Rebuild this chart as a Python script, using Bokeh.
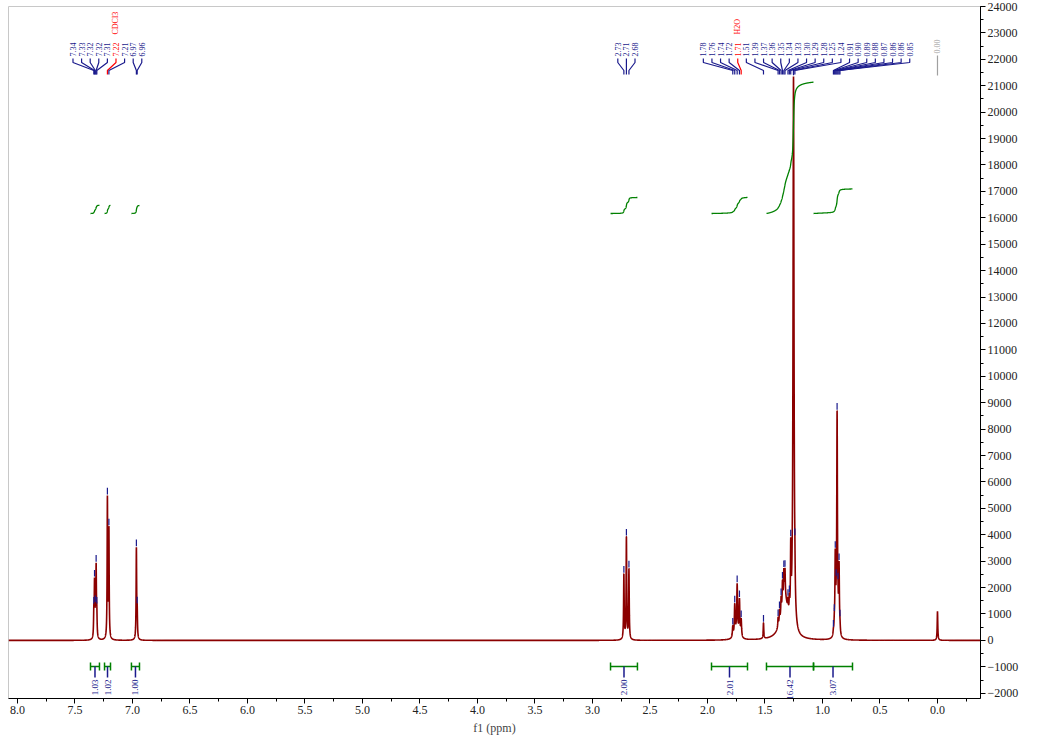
import numpy as np
from math import pi
from bokeh.plotting import figure
from bokeh.models import Range1d, SingleIntervalTicker, NumeralTickFormatter, BasicTickFormatter
from bokeh.core.properties import value
from bokeh.embed import file_html
from bokeh.resources import INLINE

# ---------------- data ----------------
# sharp lines: chemical shift on the f1 axis (ppm), amplitude, half width (ppm)
peak_ppm = [7.336, 7.330, 7.323, 7.316, 7.310,
            7.218, 7.205, 6.966, 6.959,
            2.727, 2.705, 2.683,
            1.780, 1.763, 1.742, 1.722, 1.707,
            1.513,
            1.386, 1.374, 1.360, 1.348, 1.336, 1.326, 1.300, 1.288, 1.276,
            1.252, 1.240,
            0.905, 0.897, 0.889, 0.881, 0.873, 0.865, 0.856, 0.848]
peak_height = [900, 2000, 700, 2600, 800,
               5300, 4100, 3400, 900,
               2450, 3850, 2650,
               400, 1150, 1800, 1350, 650,
               600,
               350, 450, 600, 850, 950, 950, 400, 550, 2500,
               21000, 600,
               150, 350, 2900, 500, 8300, 500, 2500, 250]
peak_width = [0.0028] * 9 + [0.003] * 3 + [0.004] * 5 + [0.003] + \
             [0.003] * 9 + [0.005] + [0.003] + [0.0035] * 8
# broad underlying humps
hump_ppm = [1.330, 1.745]
hump_height = [1600, 250]
hump_width = [0.035, 0.02]
# reference compound
tms_ppm = 0.0
tms_height = 1100
tms_label = "0.00"
# solvent / impurity signals (drawn in red)
solvent_ppm = [7.218, 1.707]
solvent_name = ["CDCl3", "H2O"]

# integrals: from, to (ppm), value
integ_from = [7.365, 7.243, 7.009, 2.843, 1.965, 1.487, 1.078]
integ_to = [7.287, 7.191, 6.939, 2.609, 1.652, 1.078, 0.739]
integ_val = [1.03, 1.02, 1.00, 2.00, 2.01, 16.42, 3.07]

# axes
X_START, X_END = 8.078, -0.374
Y_START, Y_END = -2200, 24000
FRAME_W, FRAME_H = 972, 692

# ---------------- derived ----------------
px_per_ppm = FRAME_W / (X_START - X_END)
px_per_unit = FRAME_H / (Y_END - Y_START)
TOP = 6
y0_page = TOP + FRAME_H * Y_END / (Y_END - Y_START)   # page y of data y=0


def ypage(pix):
    """data y for a vertical page pixel position"""
    return (y0_page - pix) / px_per_unit


def lor(x, c, h, w):
    return h * w * w / ((x - c) ** 2 + w * w)


x = np.arange(X_END, X_START, 0.0004)
spec = np.zeros_like(x)
for c, h, w in zip(peak_ppm, peak_height, peak_width):
    spec += lor(x, c, h, w)
for c, h, w in zip(hump_ppm, hump_height, hump_width):
    spec += lor(x, c, h, w)
spec += lor(x, tms_ppm, tms_height, 0.003)

p = figure(frame_width=FRAME_W, frame_height=FRAME_H,
           x_range=Range1d(X_START, X_END), y_range=Range1d(Y_START, Y_END),
           y_axis_location="right", output_backend="svg", toolbar_location=None,
           min_border_left=8, min_border_top=TOP, min_border_right=2, min_border_bottom=0,
           background_fill_color="white")
p.grid.visible = False
p.outline_line_color = "#C8C8C8"

FONT = "Liberation Serif"
p.xaxis.ticker = SingleIntervalTicker(interval=0.5, num_minor_ticks=2)
p.xaxis.formatter = NumeralTickFormatter(format="0.0")
p.xaxis.axis_label = "f1 (ppm)"
p.yaxis.ticker = SingleIntervalTicker(interval=1000, num_minor_ticks=2)
p.yaxis.formatter = BasicTickFormatter(use_scientific=False)
for ax in (p.xaxis, p.yaxis):
    ax.axis_line_color = "black"
    ax.major_tick_line_color = "black"
    ax.minor_tick_line_color = "black"
    ax.major_tick_in = 0
    ax.major_tick_out = 5
    ax.minor_tick_in = 0
    ax.minor_tick_out = 3
    ax.major_label_text_font = FONT
    ax.major_label_text_font_size = "12px"
    ax.major_label_text_color = "#222222"
    ax.major_label_standoff = 2
p.xaxis.axis_label_text_font = FONT
p.xaxis.axis_label_text_font_size = "12px"
p.xaxis.axis_label_text_font_style = "normal"
p.xaxis.axis_label_standoff = 4

# spectrum
p.line(x, spec, line_color="#8B0000", line_width=1.6)

NAVY = "#1A1A8C"
GREEN = "#008000"

# peak markers
ppk = np.array(peak_ppm)
top = np.interp(ppk, x, spec)
p.segment(x0=ppk, y0=top + 40, x1=ppk, y1=top + 290, line_color=NAVY, line_width=1.2)

# label spreading
gap = 8.6 / px_per_ppm


def spread(targets):
    t = -np.asarray(targets, dtype=float)
    clusters = [[i] for i in range(len(t))]

    def start(cl):
        return np.mean(t[cl]) - (len(cl) - 1) * gap / 2

    changed = True
    while changed:
        changed = False
        for k in range(len(clusters) - 1):
            a, b = clusters[k], clusters[k + 1]
            if start(a) + len(a) * gap > start(b):
                clusters[k] = a + b
                del clusters[k + 1]
                changed = True
                break
    out = np.empty(len(t))
    for cl in clusters:
        s = start(cl)
        for j, i in enumerate(cl):
            out[i] = s + j * gap
    return -out


lab_x = spread(peak_ppm)
# the aliphatic label block sits a little to the right of its centred position
lab_x = np.where(ppk < 2.0, lab_x - 15 / px_per_ppm, lab_x)
is_solv = [any(abs(pp - s) < 1e-6 for s in solvent_ppm) for pp in peak_ppm]
lab_col = ["#FF0000" if s else NAVY for s in is_solv]
lab_txt = [f"{pp:.2f}" for pp in peak_ppm]

yA, yB, yC, yD = ypage(58), ypage(62), ypage(70), ypage(74)
xs = [[lx, lx, px, px] for lx, px in zip(lab_x, peak_ppm)]
ys = [[yA, yB, yC, yD]] * len(peak_ppm)
p.multi_line(xs=xs, ys=ys, line_color=lab_col, line_width=1.2)
p.text(x=lab_x, y=[ypage(56)] * len(lab_x), text=lab_txt, angle=pi / 2,
       text_align="left", text_baseline="middle", text_color=lab_col,
       text_font=value(FONT), text_font_size="8px")

# solvent names above their labels
sx = [lab_x[i] for i, s in enumerate(is_solv) if s]
p.text(x=sx, y=[ypage(34)] * len(sx), text=solvent_name, angle=pi / 2,
       text_align="left", text_baseline="middle", text_color="#FF0000",
       text_font=value(FONT), text_font_size="8px")

# TMS label (grey)
p.segment(x0=[tms_ppm], y0=[ypage(55)], x1=[tms_ppm], y1=[ypage(75)],
          line_color="#A0A0A0", line_width=1.2)
p.text(x=[tms_ppm], y=[ypage(53)], text=[tms_label], angle=pi / 2,
       text_align="left", text_baseline="middle", text_color="#A0A0A0",
       text_font=value(FONT), text_font_size="8px")

# integral curves (top) and brackets (bottom)
base = ypage(213)
unit = 8 / px_per_unit
for a, b, v in zip(integ_from, integ_to, integ_val):
    m = (x <= a) & (x >= b)
    xx = x[m][::-1]
    cs = np.cumsum(spec[m][::-1])
    cs = (cs - cs[0]) / (cs[-1] - cs[0])
    p.line(xx, base + cs * v * unit, line_color=GREEN, line_width=1.3)

yb = ypage(666)
cap = 4 / px_per_unit
mid = [(a + b) / 2 for a, b in zip(integ_from, integ_to)]
n = len(integ_val)
p.segment(x0=integ_from, y0=[yb] * n, x1=integ_to, y1=[yb] * n, line_color=GREEN, line_width=1.5)
p.segment(x0=integ_from + integ_to, y0=[yb - cap] * (2 * n), x1=integ_from + integ_to,
          y1=[yb + cap] * (2 * n), line_color=GREEN, line_width=1.5)
p.segment(x0=mid, y0=[yb] * n, x1=mid, y1=[ypage(677)] * n, line_color=NAVY, line_width=1.5)
p.text(x=mid, y=[ypage(679)] * n, text=[f"{v:.2f}" for v in integ_val], angle=pi / 2,
       text_align="right", text_baseline="middle", text_color=NAVY,
       text_font=value(FONT), text_font_size="9px")

open("out.html", "w").write(file_html(p, INLINE))
